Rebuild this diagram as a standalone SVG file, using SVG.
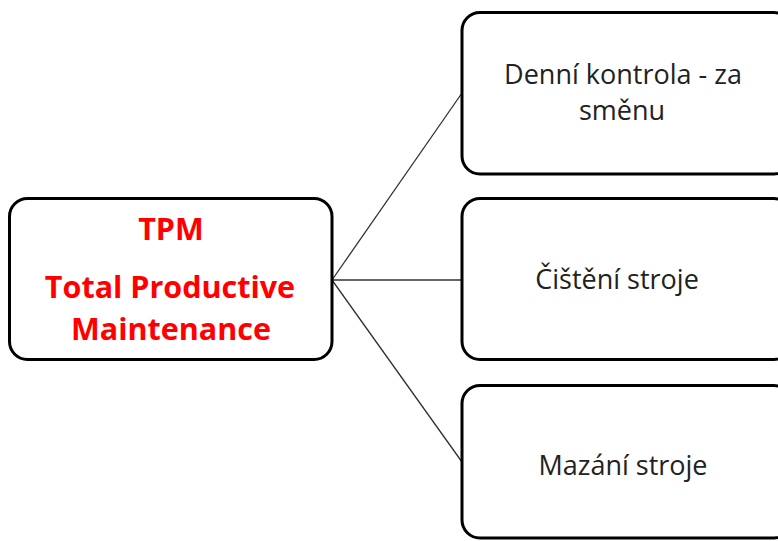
<svg xmlns="http://www.w3.org/2000/svg" width="778" height="541" viewBox="0 0 778 541">
<style>
.box{fill:#fff;stroke:#000;stroke-width:3}
.lbl{font-family:"Open Sans","Liberation Sans",sans-serif;font-size:27px;fill:#222;text-anchor:middle}
.red{font-family:"Open Sans","Liberation Sans",sans-serif;font-size:30.5px;font-weight:bold;fill:#ff0000;text-anchor:middle}
.con{stroke:#333;stroke-width:1.3;fill:none}
</style>
<rect width="778" height="541" fill="#fff"/>
<g id="connectors">
<line class="con" x1="332" y1="280" x2="462" y2="93"/>
<line class="con" x1="332" y1="280" x2="462" y2="280"/>
<line class="con" x1="332" y1="280" x2="462" y2="462"/>
</g>
<g id="tpm">
<rect class="box" x="9.5" y="198.5" width="322.5" height="161" rx="18"/>
<text class="red" x="171" y="240">TPM</text>
<text class="red" x="170" y="298">Total Productive</text>
<text class="red" x="171" y="340">Maintenance</text>
</g>
<g id="denni">
<rect class="box" x="462" y="12.5" width="330" height="161.5" rx="18"/>
<text class="lbl" x="623" y="84">Denní kontrola - za</text>
<text class="lbl" x="622" y="120">směnu</text>
</g>
<g id="cisteni">
<rect class="box" x="462" y="198.5" width="330" height="161" rx="18"/>
<text class="lbl" x="617" y="289">Čištění stroje</text>
</g>
<g id="mazani">
<rect class="box" x="462" y="385.5" width="330" height="152.5" rx="18"/>
<text class="lbl" x="623" y="475">Mazání stroje</text>
</g>
</svg>
